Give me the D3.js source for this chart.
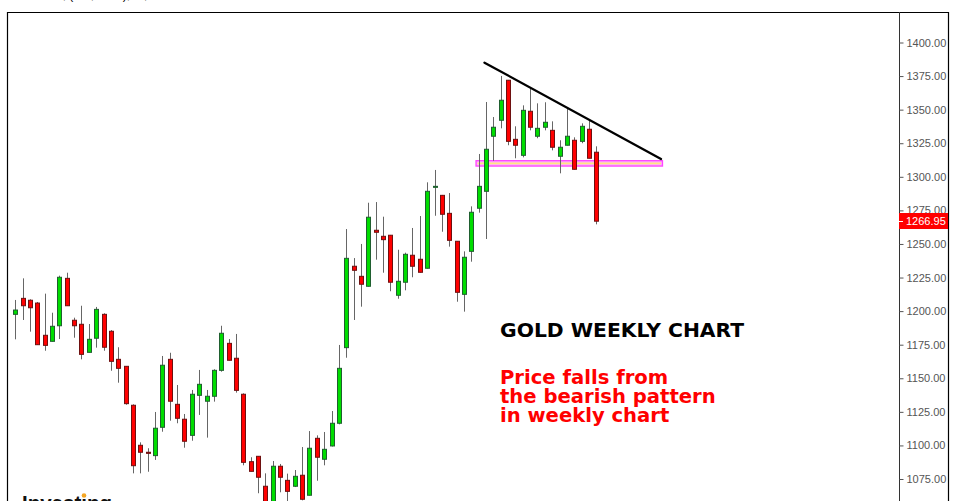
<!DOCTYPE html>
<html>
<head>
<meta charset="utf-8">
<script src="https://cdn.jsdelivr.net/npm/d3@7"></script>
<style>
  html, body { margin: 0; padding: 0; background: #fff; }
  svg { display: block; }
</style>
</head>
<body>
<svg id="chart" width="955" height="501"></svg>
<script>
// ---- data (weekly gold candles) ----
const opens = [1197.6,1209.5,1208.1,1206.0,1182.0,1177.5,1189.1,1224.4,1193.2,1190.2,
  1169.3,1179.8,1197.6,1185.0,1164.1,1158.9,1129.9,1100.1,1094.9,1092.4,
  1113.5,1164.1,1130.6,1119.5,1107.5,1137.3,1132.9,1136.6,1155.9,1176.0,
  1164.9,1138.1,1087.9,1091.9,1069.6,1055.6,1084.5,1074.0,1069.6,1077.8,
  1062.9,1105.3,1089.7,1099.6,1116.5,1172.8,1233.4,1225.9,1218.5,1260.2,
  1255.7,1256.5,1211.8,1221.5,1241.6,1238.6,1231.9,1292.2,1286.2,1272.8,
  1252.0,1212.5,1244.5,1276.6,1289.2,1330.2,1342.1,1371.9,1327.9,1316.0,
  1348.8,1330.2,1336.9,1334.6,1315.3,1323.5,1327.2,1326.4,1335.4,1318.3];
const highs = [1208.3,1224.4,1208.8,1206.8,1213.0,1198.8,1226.4,1228.6,1195.1,1204.0,
  1190.4,1203.1,1198.4,1185.9,1173.1,1159.1,1130.6,1102.3,1097.9,1124.9,
  1166.6,1169.0,1145.0,1123.4,1141.3,1156.2,1141.3,1156.7,1189.1,1179.2,
  1183.0,1138.8,1091.2,1092.1,1079.2,1088.4,1086.2,1079.0,1081.7,1098.8,
  1110.7,1107.5,1110.0,1125.6,1174.8,1261.1,1239.5,1250.0,1280.7,1281.2,
  1270.3,1256.7,1245.7,1243.5,1261.9,1270.8,1295.9,1305.1,1286.5,1287.9,
  1252.2,1244.5,1278.0,1317.0,1355.7,1344.5,1375.1,1372.1,1337.6,1353.2,
  1365.9,1354.7,1355.5,1341.3,1327.2,1351.8,1329.4,1339.8,1342.1,1322.7];
const lows = [1179.0,1193.4,1184.7,1174.8,1170.5,1177.4,1179.2,1203.8,1180.2,1164.1,
  1169.2,1172.8,1170.5,1155.6,1146.7,1130.3,1079.2,1079.2,1080.4,1089.2,
  1110.2,1118.4,1116.5,1098.3,1103.5,1122.7,1105.8,1132.6,1154.9,1163.2,
  1139.3,1085.2,1080.6,1064.4,1051.9,1051.9,1065.1,1057.1,1069.0,1059.1,
  1062.7,1073.7,1085.2,1099.2,1115.7,1165.3,1193.4,1203.3,1218.3,1238.3,
  1228.6,1214.8,1209.2,1215.5,1225.2,1228.7,1231.7,1271.0,1259.1,1248.0,
  1207.0,1199.6,1236.8,1273.3,1253.7,1312.0,1336.1,1323.5,1313.8,1314.5,
  1334.6,1328.7,1334.6,1319.7,1302.6,1323.3,1305.4,1325.0,1313.7,1264.6];
const closes = [1200.8,1204.0,1202.5,1175.0,1174.5,1188.7,1225.2,1204.0,1189.1,1167.8,
  1179.0,1201.3,1173.1,1162.6,1157.4,1131.1,1084.9,1094.9,1094.1,1112.8,
  1159.7,1132.9,1120.2,1103.1,1138.1,1145.5,1136.6,1155.9,1183.5,1163.4,
  1141.0,1087.4,1080.7,1076.3,1055.6,1084.5,1076.3,1065.8,1077.0,1059.9,
  1097.9,1091.2,1097.1,1116.5,1157.4,1239.3,1230.4,1220.0,1269.9,1258.7,
  1253.2,1221.5,1222.2,1242.3,1233.4,1228.9,1289.2,1292.9,1272.1,1252.7,
  1214.0,1240.1,1273.6,1292.9,1320.5,1336.9,1357.0,1326.4,1323.5,1349.5,
  1336.9,1336.1,1340.6,1322.0,1322.0,1330.2,1305.6,1337.6,1313.8,1266.95];
const weeks = d3.range(opens.length);              // week index 0..79
const priceTicks = d3.range(1075, 1401, 25);        // 1075 ... 1400
const lastPrice = 1266.95;
const trendLine = [[63.8, 1385.0], [87.8, 1313.3]];      // [week, price]
const supportBand = [[62.65, 1312.0], [88.0, 1308.0]];   // [from week, top], [to week, bottom]
const titleText = "XAU, (1W, USD), W,";
const headline = "GOLD WEEKLY CHART";
const noteLines = ["Price falls from", "the bearish pattern", "in weekly chart"];

// ---- layout ----
const svg = d3.select("#chart");
const W = 955, H = 501;
const frameLeft = 7, frameTop = 12, axisX = 899, frameRight = 948;

const x = d3.scaleLinear().domain([0, 79]).range([15.3, 596.3]);
const y = d3.scaleLinear().domain([1075, 1400]).range([479.0, 42.5]);

svg.append("rect").attr("width", W).attr("height", H).attr("fill", "#fff");

// frame
svg.append("path")
  .attr("d", `M${frameLeft + 0.5},${H + 5}V${frameTop + 0.5}H${frameRight + 0.5}V${H + 5}`)
  .attr("fill", "none").attr("stroke", "#000").attr("stroke-width", 1.2);
svg.append("line")
  .attr("x1", axisX + 0.5).attr("x2", axisX + 0.5)
  .attr("y1", frameTop).attr("y2", H + 5)
  .attr("stroke", "#333").attr("stroke-width", 1);

// title fragment (cut off at top)
svg.append("text").attr("x", 38).attr("y", -1)
  .attr("font-family", "Liberation Sans, Arial, sans-serif").attr("font-size", 12)
  .attr("fill", "#000").text(titleText);

// right axis
const axis = d3.axisRight(y).tickValues(priceTicks).tickFormat(d3.format(".2f"))
  .tickSize(4).tickPadding(3);
const ag = svg.append("g").attr("transform", `translate(${axisX + 0.5},0)`).call(axis);
ag.select(".domain").remove();
ag.selectAll(".tick line").attr("stroke", "#555");
ag.selectAll(".tick text").attr("fill", "#555")
  .attr("font-family", "Liberation Sans, Arial, sans-serif").attr("font-size", 11);

// support band
const sb = svg.append("g");
sb.append("rect")
  .attr("x", x(supportBand[0][0])).attr("width", x(supportBand[1][0]) - x(supportBand[0][0]))
  .attr("y", y(supportBand[0][1])).attr("height", y(supportBand[1][1]) - y(supportBand[0][1]))
  .attr("fill", "#ffb0ff").attr("stroke", "#ff44ff").attr("stroke-width", 1.3);
sb.append("line")
  .attr("x1", x(supportBand[0][0]) + 1.5).attr("x2", x(supportBand[1][0]) - 1.5)
  .attr("y1", y((supportBand[0][1] + supportBand[1][1]) / 2))
  .attr("y2", y((supportBand[0][1] + supportBand[1][1]) / 2))
  .attr("stroke", "#ffe680").attr("stroke-width", 1.6);

// candles
const cg = svg.append("g");
weeks.forEach(i => {
  const o = opens[i], c = closes[i], h = highs[i], l = lows[i];
  const up = c >= o;
  const cx = Math.round(x(i));
  cg.append("line")
    .attr("x1", cx + 0.5).attr("x2", cx + 0.5)
    .attr("y1", y(h)).attr("y2", y(l))
    .attr("stroke", "#666").attr("stroke-width", 1);
  const top = y(Math.max(o, c)), bot = y(Math.min(o, c));
  const hgt = Math.max(bot - top, 1);
  cg.append("rect")
    .attr("x", cx - 2 + 0.5).attr("width", 4)
    .attr("y", top).attr("height", hgt)
    .attr("fill", up ? "#00dd00" : "#ff0000")
    .attr("stroke", up ? "#1f5f2f" : "#6e1010").attr("stroke-width", 1);
});

// trend line
svg.append("line")
  .attr("x1", x(trendLine[0][0])).attr("y1", y(trendLine[0][1]))
  .attr("x2", x(trendLine[1][0])).attr("y2", y(trendLine[1][1]))
  .attr("stroke", "#000").attr("stroke-width", 2.3).attr("stroke-linecap", "round");

// last price tag
const yl = y(lastPrice);
svg.append("rect").attr("x", axisX).attr("y", Math.round(yl) - 8).attr("width", frameRight - axisX).attr("height", 16)
  .attr("fill", "#ff0000");
svg.append("line").attr("x1", axisX).attr("x2", axisX + 4).attr("y1", Math.round(yl) + 0.5).attr("y2", Math.round(yl) + 0.5)
  .attr("stroke", "#fff");
svg.append("text").attr("x", axisX + 7).attr("y", Math.round(yl) + 4)
  .attr("font-family", "Liberation Sans, Arial, sans-serif").attr("font-size", 11)
  .attr("fill", "#fff").text(d3.format(".2f")(lastPrice));

// annotations
svg.append("text").attr("x", 500).attr("y", 337)
  .attr("font-family", "DejaVu Sans, Verdana, sans-serif").attr("font-weight", "bold")
  .attr("font-size", 20.3).attr("fill", "#000").text(headline);
noteLines.forEach((t, k) => {
  svg.append("text").attr("x", 500).attr("y", 384 + k * 18.8)
    .attr("font-family", "DejaVu Sans, Verdana, sans-serif").attr("font-weight", "bold")
    .attr("font-size", 19.6).attr("fill", "#ff0000").text(t);
});

// logo (cut off at bottom)
svg.append("text").attr("x", 22).attr("y", 510)
  .attr("font-family", "Liberation Sans, Arial, sans-serif").attr("font-weight", "bold")
  .attr("font-size", 20.5).attr("fill", "#111").text("Investing");
svg.append("circle").attr("cx", 84).attr("cy", 495.5).attr("r", 2.3).attr("fill", "#f5a623");
</script>
</body>
</html>
